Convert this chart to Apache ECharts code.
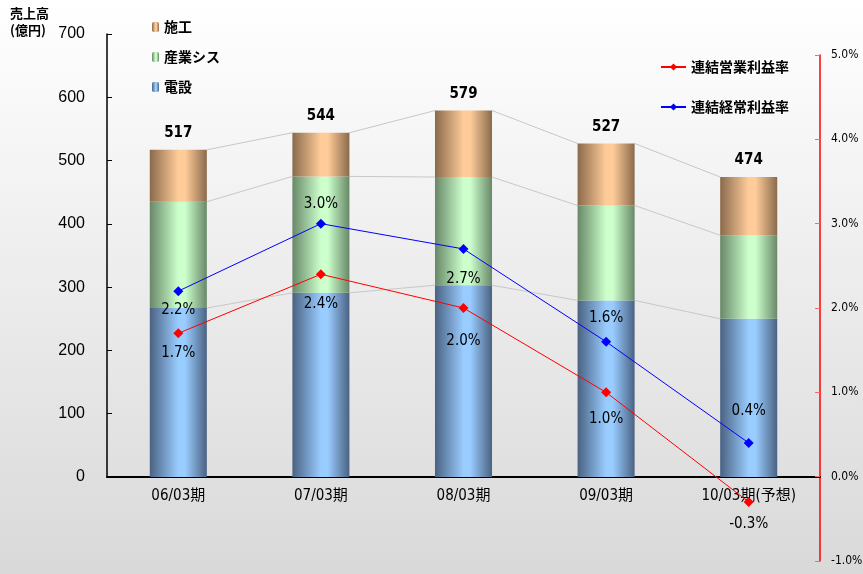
<!DOCTYPE html>
<html><head><meta charset="utf-8">
<script src="https://cdn.jsdelivr.net/npm/echarts@6/dist/echarts.min.js"></script>
<style>html,body{margin:0;padding:0}#c{width:863px;height:574px}</style>
</head><body><div id="c"></div>
<script>
var categories = ['06/03期','07/03期','08/03期','09/03期','10/03期(予想)'];
var densetsu = [267, 291, 303, 279, 250];
var sangyo = [168, 184, 171, 150, 132];
var sekou = [82, 69, 105, 98, 92];
var totals = [517, 544, 579, 527, 474];
var eigyoRate = [1.7, 2.4, 2.0, 1.0, -0.3];
var keijoRate = [2.2, 3.0, 2.7, 1.6, 0.4];
var leftTicks = {min: 0, max: 700, interval: 100};
var rightTicks = {min: -1, max: 5, interval: 1};
var leftAxisName = '売上高\n(億円)';

// label placement (style)
var keijoLabelPos = [['bottom',6],['top',7],['bottom',18],['top',11],['top',19]];
var eigyoLabelPos = [['bottom',7],['bottom',17],['bottom',21],['bottom',14],['bottom',10]];

var narrow = "'DejaVu Sans','Noto Sans CJK JP',sans-serif";
var cjk = "'Noto Sans CJK JP','Noto Sans',sans-serif";
var cond = 'condensed';

function grad(dark, light){
  return new echarts.graphic.LinearGradient(0,0,1,0,[
    {offset:0,color:dark},{offset:0.5,color:light},{offset:0.62,color:light},{offset:1,color:dark}]);
}

var cum1 = densetsu.slice();
var cum2 = densetsu.map(function(v,i){return v+sangyo[i];});
var cum3 = cum2.map(function(v,i){return v+sekou[i];});
var connData = [];
for (var i=0;i<categories.length-1;i++) connData.push([i, cum1[i], cum2[i], cum3[i], cum1[i+1], cum2[i+1], cum3[i+1]]);

var barW = 0.4;

var chart = echarts.init(document.getElementById('c'));
chart.setOption({
  animation: false,
  backgroundColor: new echarts.graphic.LinearGradient(0,0,0,1,[{offset:0,color:'#ffffff'},{offset:1,color:'#d9d9d9'}]),
  textStyle: {fontFamily: cjk},
  title: {text: leftAxisName, left: 10, top: 5, padding: 0,
    textStyle: {color:'#000', fontSize:13, fontWeight:'bold', lineHeight:17, fontFamily:cjk}},
  grid: [
    {left:107, right:43, top:34, bottom:97, outerBoundsMode:'none', containLabel:false},
    {left:107, right:43, top:55, bottom:13, outerBoundsMode:'none', containLabel:false}
  ],
  legend: [
    {orient:'vertical', left:147, top:14, itemWidth:7, itemHeight:10, itemGap:14,
     textStyle:{fontSize:14, fontWeight:'bold', color:'#000', fontFamily:cjk, lineHeight:16},
     data:['施工','産業シス','電設']},
    {orient:'vertical', left:655, top:54, itemWidth:25, itemHeight:9, itemGap:24,
     textStyle:{fontSize:14, fontWeight:'bold', color:'#000', fontFamily:cjk, lineHeight:16},
     data:['連結営業利益率','連結経常利益率']}
  ],
  xAxis: [
    {type:'category', gridIndex:0, data:categories,
     axisLine:{lineStyle:{color:'#000', width:2}},
     axisTick:{inside:true, length:5, lineStyle:{color:'#000'}},
     axisLabel:{color:'#000', fontSize:15, fontStyle:cond, fontFamily:narrow, margin:12}},
    {type:'category', gridIndex:1, data:categories, show:false}
  ],
  yAxis: [
    {type:'value', gridIndex:0, min:leftTicks.min, max:leftTicks.max, interval:leftTicks.interval,
     axisLine:{show:true, lineStyle:{color:'#000', width:1.5}},
     axisTick:{show:true, inside:true, length:5, lineStyle:{color:'#000'}},
     axisLabel:{color:'#000', fontSize:16, fontFamily:"'Liberation Sans',Arial,sans-serif", margin:22},
     splitLine:{show:false}},
    {type:'value', gridIndex:1, position:'right', min:rightTicks.min, max:rightTicks.max, interval:rightTicks.interval,
     axisLine:{show:true, lineStyle:{color:'#ff0000', width:1.5}},
     axisTick:{show:true, inside:true, length:5, lineStyle:{color:'#ff6666'}},
     axisLabel:{color:'#000', fontSize:12, fontStyle:cond, fontFamily:narrow, margin:11,
       formatter:function(v){return v.toFixed(1)+'%';}},
     splitLine:{show:false}}
  ],
  series: [
    {type:'custom', xAxisIndex:0, yAxisIndex:0, z:1, silent:true, data:connData,
     renderItem:function(params, api){
       var bw = api.size([1,0])[0]*barW/2;
       var ch = [];
       for (var k=1;k<=3;k++){
         var p1 = api.coord([api.value(0), api.value(k)]);
         var p2 = api.coord([api.value(0)+1, api.value(k+3)]);
         ch.push({type:'line', shape:{x1:p1[0]+bw, y1:p1[1], x2:p2[0]-bw, y2:p2[1]},
           style:{stroke:'#c8c8c8', lineWidth:1}});
       }
       return {type:'group', children:ch};
     }},
    {name:'電設', type:'bar', stack:'s', barWidth:'40%', data:densetsu, z:2,
     itemStyle:{color:grad('#4a6282','#99ccff')}},
    {name:'産業シス', type:'bar', stack:'s', barWidth:'40%', data:sangyo, z:2,
     itemStyle:{color:grad('#688868','#ccffcc')}},
    {name:'施工', type:'bar', stack:'s', barWidth:'40%', data:sekou, z:2,
     itemStyle:{color:grad('#8a6a4c','#ffcc99')},
     label:{show:true, position:'top', distance:9, color:'#000', fontSize:15, fontWeight:'bold', fontStyle:cond, fontFamily:narrow,
       formatter:function(p){return totals[p.dataIndex];}}},
    {name:'連結営業利益率', type:'line', xAxisIndex:1, yAxisIndex:1, z:5,
     symbol:'diamond', symbolSize:10, itemStyle:{color:'#ff0000'}, lineStyle:{color:'#ff0000', width:1},
     data:eigyoRate.map(function(v,i){return {value:v, label:{position:eigyoLabelPos[i][0], distance:eigyoLabelPos[i][1]}};}),
     label:{show:true, color:'#000', fontSize:15, fontStyle:cond, fontFamily:narrow, formatter:function(p){return p.value.toFixed(1)+'%';}}},
    {name:'連結経常利益率', type:'line', xAxisIndex:1, yAxisIndex:1, z:5,
     symbol:'diamond', symbolSize:10, itemStyle:{color:'#0000ff'}, lineStyle:{color:'#0000ff', width:1},
     data:keijoRate.map(function(v,i){return {value:v, label:{position:keijoLabelPos[i][0], distance:keijoLabelPos[i][1]}};}),
     label:{show:true, color:'#000', fontSize:15, fontStyle:cond, fontFamily:narrow, formatter:function(p){return p.value.toFixed(1)+'%';}}}
  ]
});
</script></body></html>
